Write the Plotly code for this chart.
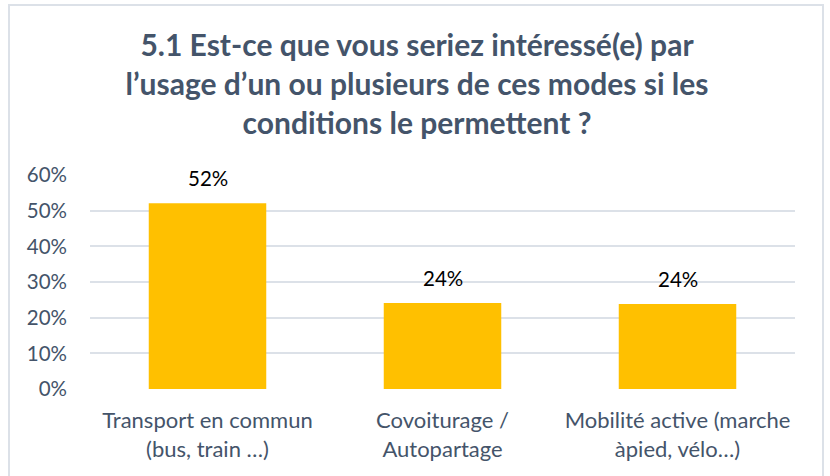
import plotly.graph_objects as go

categories = ["Transport en commun<br>(bus, train …)", "Covoiturage /<br>Autopartage", "Mobilité active (marche<br>àpied, vélo…)"]
values = [0.521, 0.241, 0.238]
labels = ["52%", "24%", "24%"]
tick_vals = [0, 0.1, 0.2, 0.3, 0.4, 0.5, 0.6]
tick_text = ["0%", "10%", "20%", "30%", "40%", "50%", "60%"]
title_text = ("5.1 Est-ce que vous seriez intéressé(e) par<br>"
              "l’usage d’un ou plusieurs de ces modes si les<br>"
              "conditions le permettent ?")

FONT = "Lato"
SLATE = "#44546A"
W, H = 830, 476
PL, PR, PT, PB = 90, 35, 175, 87
plot_w = W - PL - PR
plot_h = H - PT - PB


def px(xpx):
    return (xpx - PL) / plot_w


def py(ypx):
    return (H - PB - ypx) / plot_h


fig = go.Figure()
fig.add_trace(go.Bar(
    x=categories, y=values,
    marker=dict(color="#FFC000", line=dict(width=0)),
    width=0.5,
))

annotations = []
for cat, v, lab in zip(categories, values, labels):
    annotations.append(dict(x=cat, y=v, xref="x", yref="y", text=lab, showarrow=False,
                            yanchor="bottom", yshift=11,
                            font=dict(family=FONT, size=20.5, color="#000000")))

fig.update_layout(
    width=W, height=H,
    margin=dict(l=PL, r=PR, t=PT, b=PB),
    paper_bgcolor="white", plot_bgcolor="white",
    showlegend=False,
    title=dict(text=title_text, xref="container", x=417 / W, xanchor="center",
               yref="container", y=1 - 56 / H, yanchor="middle",
               font=dict(family=FONT, size=30, color=SLATE, weight="bold")),
    annotations=annotations,
    xaxis=dict(showgrid=False, showline=False, ticks="", ticklabelstandoff=16,
               tickfont=dict(family=FONT, size=22, color=SLATE)),
    yaxis=dict(range=[0, 0.6], tickvals=tick_vals, ticktext=tick_text,
               showgrid=True, gridcolor="#DCE1E8", gridwidth=2, zeroline=False,
               showline=False, ticks="", ticklabelstandoff=22,
               tickfont=dict(family=FONT, size=20.5, color=SLATE)),
    shapes=[dict(type="rect", xref="paper", yref="paper",
                 x0=px(9), x1=px(823),
                 y0=py(490), y1=py(5),
                 line=dict(color="#DCE1E8", width=2), layer="below")],
)

fig.write_html("out.html", config={"displayModeBar": False},
               post_script="document.body.style.margin='0';document.body.style.overflow='hidden';")
